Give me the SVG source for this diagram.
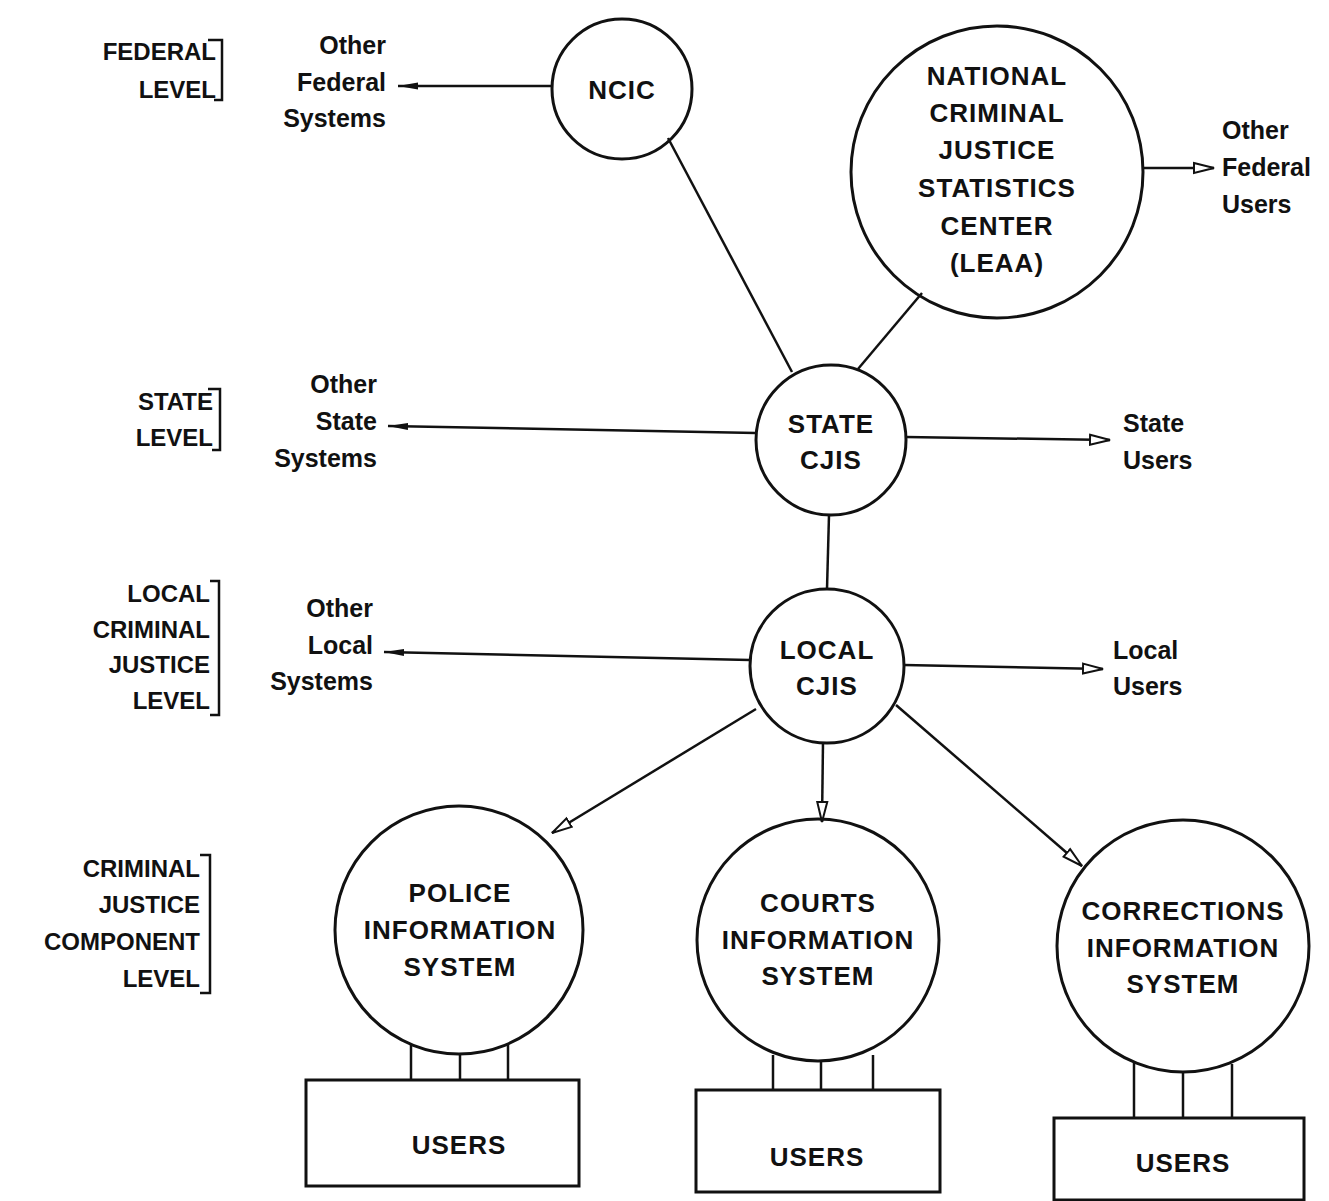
<svg xmlns="http://www.w3.org/2000/svg" width="1329" height="1201" viewBox="0 0 1329 1201">
<defs>
<style>
.c{fill:none;stroke:#111;stroke-width:3}
.ln{fill:none;stroke:#111;stroke-width:2.5}
.lv{font-family:"Liberation Sans",Arial,sans-serif;font-size:24px;font-weight:bold;fill:#111;text-anchor:end}
.nd{font-family:"Liberation Sans",Arial,sans-serif;font-size:26px;font-weight:bold;fill:#111;text-anchor:middle;letter-spacing:1px}
.lb{font-family:"Liberation Sans",Arial,sans-serif;font-size:25px;font-weight:bold;fill:#111}
.br{fill:none;stroke:#111;stroke-width:2.5}
</style>
<marker id="fa" viewBox="0 0 20 10" refX="20" refY="5" markerWidth="20" markerHeight="10" markerUnits="userSpaceOnUse" orient="auto">
<path d="M0,1.5 L20,5 L0,8.5 Z" fill="#111"/>
</marker>
<marker id="ha" viewBox="0 0 22 14" refX="21" refY="7" markerWidth="22" markerHeight="14" markerUnits="userSpaceOnUse" orient="auto">
<path d="M1,2 L21,7 L1,12 Z" fill="#fff" stroke="#111" stroke-width="2"/>
</marker>
</defs>
<rect width="1329" height="1201" fill="#fff"/>

<g id="level-labels">
<text class="lv" x="216" y="60">FEDERAL</text>
<text class="lv" x="216" y="98">LEVEL</text>
<path class="br" d="M208,40 H222 V100 H214"/>
<text class="lv" x="213" y="410">STATE</text>
<text class="lv" x="213" y="446">LEVEL</text>
<path class="br" d="M208,389 H220 V450 H212"/>
<text class="lv" x="210" y="602">LOCAL</text>
<text class="lv" x="210" y="638">CRIMINAL</text>
<text class="lv" x="210" y="673">JUSTICE</text>
<text class="lv" x="210" y="709">LEVEL</text>
<path class="br" d="M210,581 H219 V715 H210"/>
<text class="lv" x="200" y="877">CRIMINAL</text>
<text class="lv" x="200" y="913">JUSTICE</text>
<text class="lv" x="200" y="950">COMPONENT</text>
<text class="lv" x="200" y="987">LEVEL</text>
<path class="br" d="M200,855 H210 V993 H200"/>
</g>

<g id="connectors">
<line class="ln" x1="552" y1="86" x2="398" y2="86" marker-end="url(#fa)"/>
<line class="ln" x1="1143" y1="168" x2="1214" y2="168" marker-end="url(#ha)"/>
<line class="ln" x1="668" y1="138" x2="792" y2="372"/>
<line class="ln" x1="922" y1="293" x2="858" y2="369"/>
<line class="ln" x1="756" y1="433" x2="388" y2="426" marker-end="url(#fa)"/>
<line class="ln" x1="906" y1="437" x2="1110" y2="440" marker-end="url(#ha)"/>
<line class="ln" x1="829" y1="515" x2="827" y2="589"/>
<line class="ln" x1="750" y1="660" x2="384" y2="652" marker-end="url(#fa)"/>
<line class="ln" x1="904" y1="665" x2="1103" y2="669" marker-end="url(#ha)"/>
<line class="ln" x1="756" y1="709" x2="552" y2="833" marker-end="url(#ha)"/>
<line class="ln" x1="823" y1="742" x2="822" y2="822" marker-end="url(#ha)"/>
<line class="ln" x1="896" y1="705" x2="1082" y2="866" marker-end="url(#ha)"/>
<line class="ln" x1="411" y1="1045" x2="411" y2="1080"/>
<line class="ln" x1="460" y1="1053" x2="460" y2="1080"/>
<line class="ln" x1="508" y1="1044" x2="508" y2="1080"/>
<line class="ln" x1="773" y1="1055" x2="773" y2="1090"/>
<line class="ln" x1="821" y1="1061" x2="821" y2="1090"/>
<line class="ln" x1="873" y1="1055" x2="873" y2="1090"/>
<line class="ln" x1="1134" y1="1063" x2="1134" y2="1118"/>
<line class="ln" x1="1183" y1="1072" x2="1183" y2="1118"/>
<line class="ln" x1="1232" y1="1064" x2="1232" y2="1118"/>
</g>

<g id="other-federal-systems">
<text class="lb" x="386" y="54" text-anchor="end">Other</text>
<text class="lb" x="386" y="91" text-anchor="end">Federal</text>
<text class="lb" x="386" y="127" text-anchor="end">Systems</text>
</g>
<g id="ncic">
<circle class="c" cx="622" cy="89" r="70"/>
<text class="nd" x="622" y="99">NCIC</text>
</g>
<g id="ncjsc">
<circle class="c" cx="997" cy="172" r="146"/>
<text class="nd" x="997" y="85">NATIONAL</text>
<text class="nd" x="997" y="122">CRIMINAL</text>
<text class="nd" x="997" y="159">JUSTICE</text>
<text class="nd" x="997" y="197">STATISTICS</text>
<text class="nd" x="997" y="235">CENTER</text>
<text class="nd" x="997" y="272">(LEAA)</text>
</g>
<g id="other-federal-users">
<text class="lb" x="1222" y="139">Other</text>
<text class="lb" x="1222" y="176">Federal</text>
<text class="lb" x="1222" y="213">Users</text>
</g>

<g id="other-state-systems">
<text class="lb" x="377" y="393" text-anchor="end">Other</text>
<text class="lb" x="377" y="430" text-anchor="end">State</text>
<text class="lb" x="377" y="467" text-anchor="end">Systems</text>
</g>
<g id="state-cjis">
<circle class="c" cx="831" cy="440" r="75"/>
<text class="nd" x="831" y="433">STATE</text>
<text class="nd" x="831" y="469">CJIS</text>
</g>
<g id="state-users">
<text class="lb" x="1123" y="432">State</text>
<text class="lb" x="1123" y="469">Users</text>
</g>

<g id="other-local-systems">
<text class="lb" x="373" y="617" text-anchor="end">Other</text>
<text class="lb" x="373" y="654" text-anchor="end">Local</text>
<text class="lb" x="373" y="690" text-anchor="end">Systems</text>
</g>
<g id="local-cjis">
<circle class="c" cx="827" cy="666" r="77"/>
<text class="nd" x="827" y="659">LOCAL</text>
<text class="nd" x="827" y="695">CJIS</text>
</g>
<g id="local-users">
<text class="lb" x="1113" y="659">Local</text>
<text class="lb" x="1113" y="695">Users</text>
</g>

<g id="police">
<circle class="c" cx="459" cy="930" r="124"/>
<text class="nd" x="460" y="902">POLICE</text>
<text class="nd" x="460" y="939">INFORMATION</text>
<text class="nd" x="460" y="976">SYSTEM</text>
</g>
<g id="police-users">
<rect class="c" x="306" y="1080" width="273" height="106"/>
<text class="nd" x="459" y="1154">USERS</text>
</g>

<g id="courts">
<circle class="c" cx="818" cy="940" r="121"/>
<text class="nd" x="818" y="912">COURTS</text>
<text class="nd" x="818" y="949">INFORMATION</text>
<text class="nd" x="818" y="985">SYSTEM</text>
</g>
<g id="courts-users">
<rect class="c" x="696" y="1090" width="244" height="102"/>
<text class="nd" x="817" y="1166">USERS</text>
</g>

<g id="corrections">
<circle class="c" cx="1183" cy="946" r="126"/>
<text class="nd" x="1183" y="920">CORRECTIONS</text>
<text class="nd" x="1183" y="957">INFORMATION</text>
<text class="nd" x="1183" y="993">SYSTEM</text>
</g>
<g id="corrections-users">
<rect class="c" x="1054" y="1118" width="250" height="82"/>
<text class="nd" x="1183" y="1172">USERS</text>
</g>
</svg>
